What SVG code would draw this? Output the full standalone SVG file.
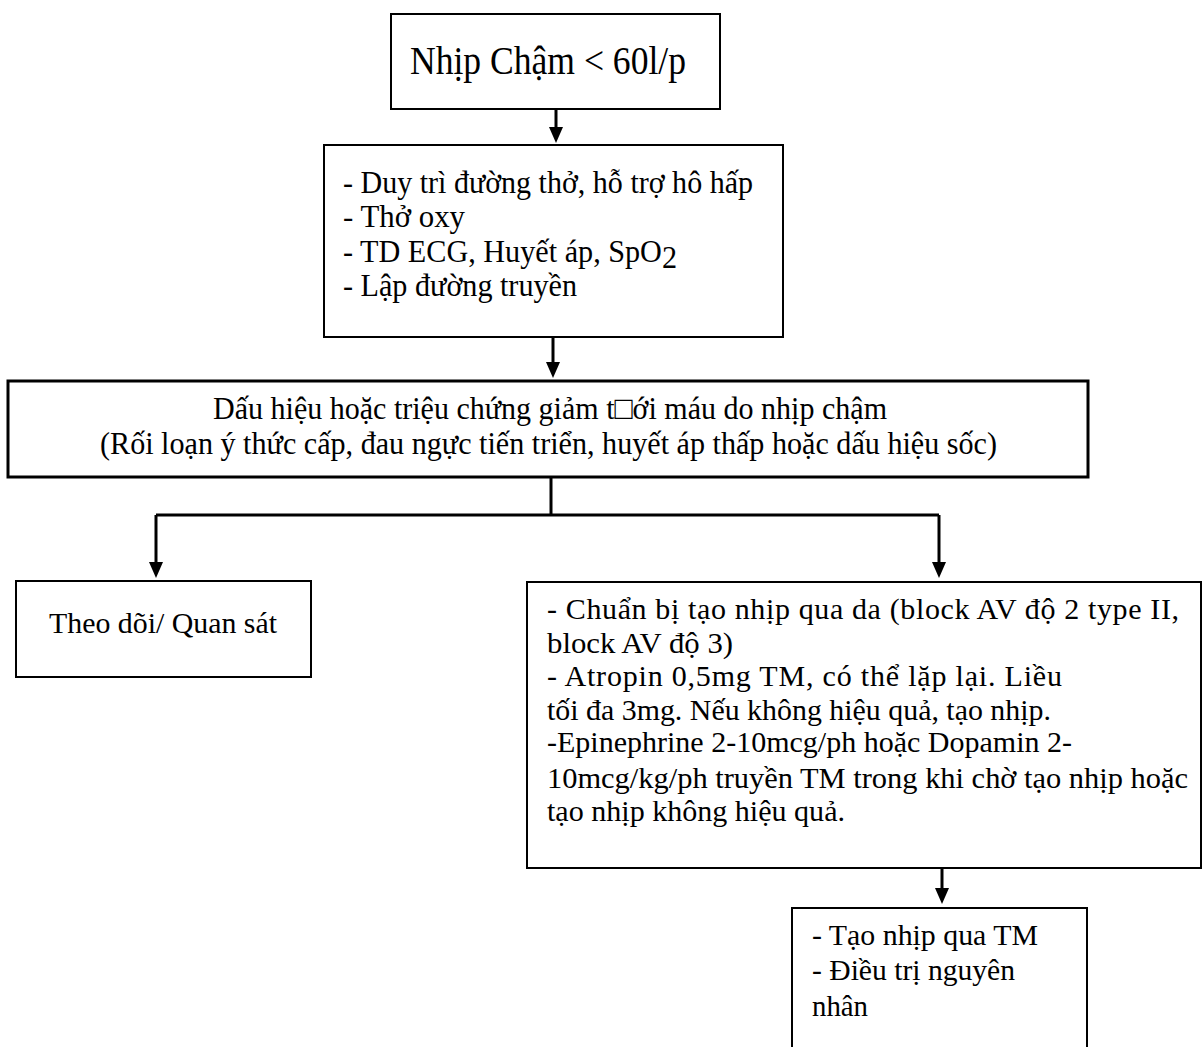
<svg xmlns="http://www.w3.org/2000/svg" width="1203" height="1047" viewBox="0 0 1203 1047">
  <style>
    .box { fill: #ffffff; stroke: #000000; stroke-width: 2; }
    .box-heavy { fill: #ffffff; stroke: #000000; stroke-width: 3; }
    .link { fill: none; stroke: #000000; stroke-width: 3; }
    .t { font-family: "Liberation Serif", "Times New Roman", serif; fill: #000000; }
  </style>
  <defs>
    <marker id="arrow" viewBox="0 0 16 14" refX="1" refY="7" markerWidth="16" markerHeight="14" markerUnits="userSpaceOnUse" orient="auto">
      <path d="M0,0 L16,7 L0,14 Z" fill="#000000"/>
    </marker>
  </defs>

  <rect width="1203" height="1047" fill="#ffffff"/>

  <!-- connectors -->
  <g id="connectors">
    <path class="link" d="M556,109 V128" marker-end="url(#arrow)"/>
    <path class="link" d="M553,337 V363" marker-end="url(#arrow)"/>
    <path class="link" d="M551,477 V515"/>
    <path class="link" d="M156,515 H939"/>
    <path class="link" d="M156,515 V563" marker-end="url(#arrow)"/>
    <path class="link" d="M939,515 V563" marker-end="url(#arrow)"/>
    <path class="link" d="M942,868 V889" marker-end="url(#arrow)"/>
  </g>

  <!-- start: bradycardia -->
  <g id="node-start">
    <rect class="box" x="391" y="14" width="329" height="95"/>
    <text class="t" x="410" y="74" font-size="40" textLength="276" lengthAdjust="spacingAndGlyphs">Nhịp Chậm &lt; 60l/p</text>
  </g>

  <!-- initial support -->
  <g id="node-support">
    <rect class="box" x="324" y="145" width="459" height="192"/>
    <text class="t" x="343" y="193" font-size="32" textLength="410" lengthAdjust="spacingAndGlyphs">- Duy trì đường thở, hỗ trợ hô hấp</text>
    <text class="t" x="343" y="227" font-size="32" textLength="122" lengthAdjust="spacingAndGlyphs">- Thở oxy</text>
    <text class="t" x="343" y="262" font-size="32" textLength="334" lengthAdjust="spacingAndGlyphs">- TD ECG, Huyết áp, SpO<tspan dy="6">2</tspan></text>
    <text class="t" x="343" y="296" font-size="32" textLength="234" lengthAdjust="spacingAndGlyphs">- Lập đường truyền</text>
  </g>

  <!-- hypoperfusion check -->
  <g id="node-signs">
    <rect class="box-heavy" x="8" y="381" width="1080" height="96"/>
    <text class="t" x="213" y="419" font-size="32" textLength="674" lengthAdjust="spacingAndGlyphs">Dấu hiệu hoặc triệu chứng giảm t□ới máu do nhịp chậm</text>
    <text class="t" x="100" y="454" font-size="32" textLength="897" lengthAdjust="spacingAndGlyphs">(Rối loạn ý thức cấp, đau ngực tiến triển, huyết áp thấp hoặc dấu hiệu sốc)</text>
  </g>

  <!-- no signs -->
  <g id="node-observe">
    <rect class="box" x="16" y="581" width="295" height="96"/>
    <text class="t" x="49" y="633" font-size="30" textLength="228" lengthAdjust="spacingAndGlyphs">Theo dõi/ Quan sát</text>
  </g>

  <!-- treatment -->
  <g id="node-treat">
    <rect class="box" x="527" y="582" width="674" height="286"/>
    <text class="t" x="547" y="619" font-size="30" textLength="632" lengthAdjust="spacing">- Chuẩn bị tạo nhịp qua da (block AV độ 2 type II,</text>
    <text class="t" x="547" y="653" font-size="30" textLength="186" lengthAdjust="spacingAndGlyphs">block AV độ 3)</text>
    <text class="t" x="547" y="686" font-size="30" textLength="515" lengthAdjust="spacing">- Atropin 0,5mg TM, có thể lặp lại. Liều</text>
    <text class="t" x="547" y="720" font-size="30" textLength="504" lengthAdjust="spacingAndGlyphs">tối đa 3mg. Nếu không hiệu quả, tạo nhịp.</text>
    <text class="t" x="547" y="752" font-size="30" textLength="525" lengthAdjust="spacingAndGlyphs">-Epinephrine 2-10mcg/ph hoặc Dopamin 2-</text>
    <text class="t" x="547" y="788" font-size="30" textLength="641" lengthAdjust="spacingAndGlyphs">10mcg/kg/ph truyền TM trong khi chờ tạo nhịp hoặc</text>
    <text class="t" x="547" y="821" font-size="30" textLength="298" lengthAdjust="spacingAndGlyphs">tạo nhịp không hiệu quả.</text>
  </g>

  <!-- transvenous pacing -->
  <g id="node-pacing">
    <rect class="box" x="792" y="908" width="295" height="170"/>
    <text class="t" x="812" y="945" font-size="30" textLength="226" lengthAdjust="spacingAndGlyphs">- Tạo nhịp qua TM</text>
    <text class="t" x="812" y="980" font-size="30" textLength="203" lengthAdjust="spacingAndGlyphs">- Điều trị nguyên</text>
    <text class="t" x="812" y="1016" font-size="30" textLength="56" lengthAdjust="spacingAndGlyphs">nhân</text>
  </g>
</svg>
